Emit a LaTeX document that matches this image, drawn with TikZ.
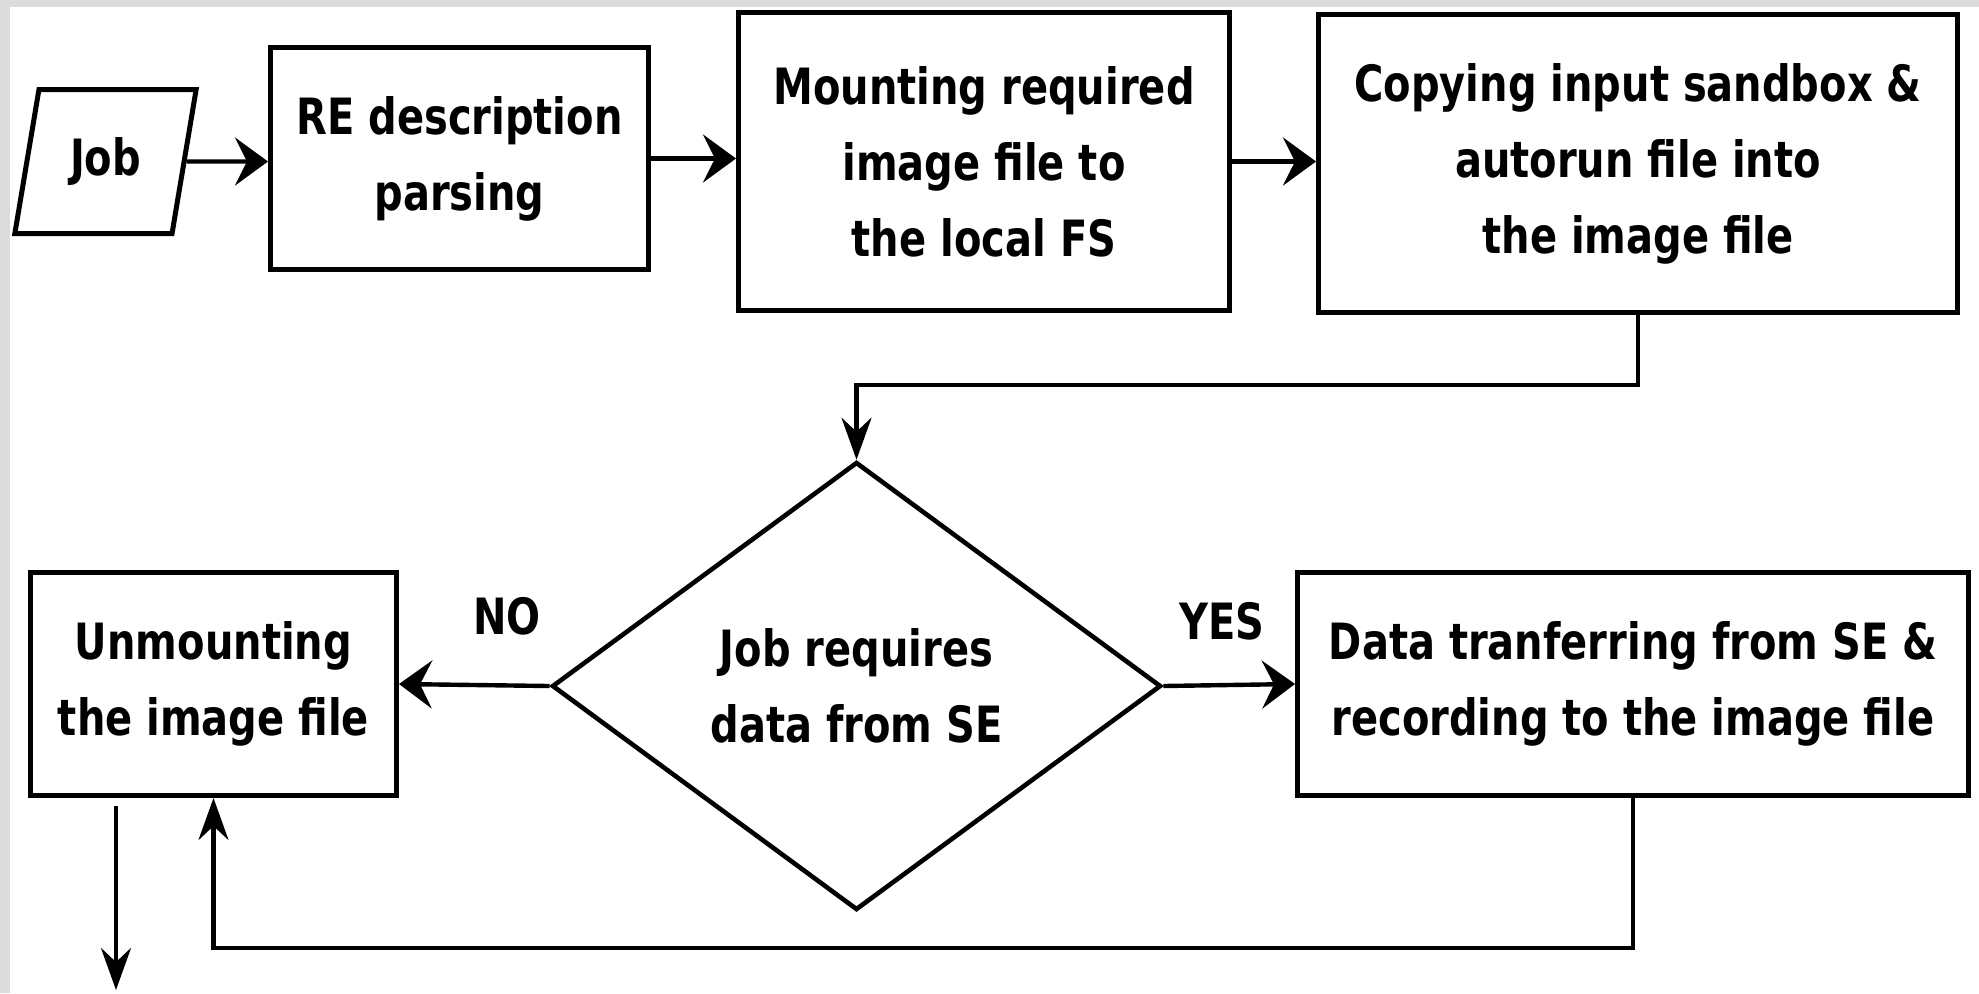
\documentclass[tikz,border=0pt]{standalone}
\usepackage{fontspec}
\newfontfamily\flowfont[FakeStretch=0.8]{DejaVu Sans Bold}
\usetikzlibrary{calc,arrows.meta,positioning,shapes.geometric}
\definecolor{FrameGrey}{HTML}{DCDCDC}

\begin{document}
\begin{tikzpicture}[x=0.5pt,y=-0.5pt,
    every node/.style={font=\flowfont\fontsize{25}{38}\selectfont, align=center, inner sep=0pt},
    procbox/.style={draw, rectangle, line width=2.5pt},
    flowline/.style={line width=2.2pt},
    harrow/.style={flowline, -{Stealth[length=16.5pt,width=24pt,inset=6pt]}},
    varrow/.style={flowline, -{Stealth[length=21pt,width=15pt,inset=7pt]}}]
  % page, grey strip on top and left
  \fill[FrameGrey] (0,0) rectangle (1979,993);
  \fill[white] (10,7) rectangle (1979,993);
  \useasboundingbox (0,0) rectangle (1979,993);

  % top row
  \node[draw, line width=2.5pt, trapezium, trapezium stretches=true,
        trapezium left angle=75, trapezium right angle=105,
        minimum width=91pt, minimum height=72pt] (job) at (105.5,161.5) {Job};
  \node[procbox, minimum width=189pt, minimum height=111pt] (re) at (459.5,158.5)
    {RE description\\parsing};
  \node[procbox, minimum width=245.5pt, minimum height=149pt] (mount) at (984,161.5)
    {Mounting required\\image file to\\the local FS};
  \node[procbox, minimum width=319.5pt, minimum height=149pt] (copy) at (1638,163.5)
    {Copying input sandbox \&\\autorun file into\\the image file};

  % decision and bottom row
  \node[draw, diamond, line width=2.3pt, minimum width=304.5pt, minimum height=224pt]
    (decision) at (856.5,686) {Job requires\\data from SE};
  \node[procbox, minimum width=183pt, minimum height=111.5pt] (unmount) at (213.5,684)
    {Unmounting\\the image file};
  \node[procbox, minimum width=335.5pt, minimum height=111.5pt] (data) at (1633,684)
    {Data tranferring from SE \&\\recording to the image file};
  \node (nolbl) at (507,616) {NO};
  \node (yeslbl) at (1222,621) {YES};
  \coordinate (exit) at (116,990);

  % connectors
  \draw[harrow] (job) -- (job -| re.west);
  \draw[harrow] (re) -- (re -| mount.west);
  \draw[harrow] (mount) -- (mount -| copy.west);
  \draw[varrow] (copy.south) -- ++(0,70) -| (decision.north);
  \draw[harrow] (decision.west) -- (unmount.east);
  \draw[harrow] (decision.east) -- (data.west);
  \draw[varrow] (data.south) -- ++(0,150) -| (unmount.south);
  \draw[varrow] (unmount.south -| exit) ++(0,8) -- (exit);
\end{tikzpicture}
\end{document}
